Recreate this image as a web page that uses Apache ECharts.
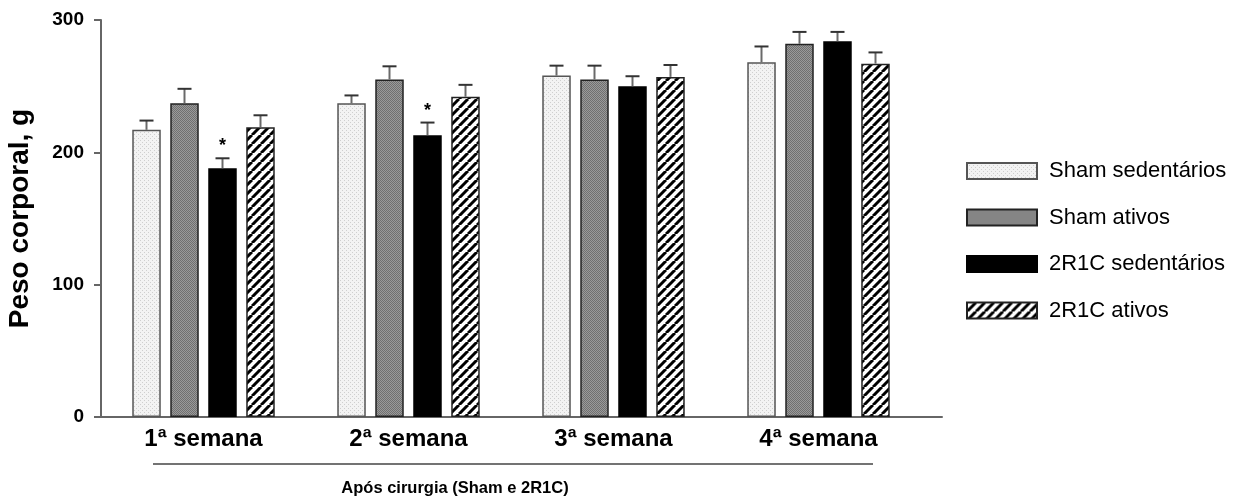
<!DOCTYPE html>
<html>
<head>
<meta charset="utf-8">
<script src="https://cdn.jsdelivr.net/npm/echarts@6/dist/echarts.min.js"></script>
<style>
  html, body { margin: 0; padding: 0; background: #fff; }
  #chart { width: 1246px; height: 502px; }
</style>
</head>
<body>
<div id="chart"></div>
<script>
// Body weight (g) per week after surgery, mean + SEM
const weeks = ['1ª semana', '2ª semana', '3ª semana', '4ª semana'];
const groupNames = ['Sham sedentários', 'Sham ativos', '2R1C sedentários', '2R1C ativos'];

const shamSedentarios = [217, 237, 258, 268];
const shamAtivos      = [237, 255, 255, 282];
const r1cSedentarios  = [188, 213, 250, 284];
const r1cAtivos       = [219, 242, 257, 267];

const shamSedentariosErr = [7, 6, 7.5, 12];
const shamAtivosErr      = [11, 10, 10.5, 9];
const r1cSedentariosErr  = [7.5, 9.5, 7.5, 7];
const r1cAtivosErr       = [9, 9, 9, 8.5];

// significance marks (*) per group and week
const r1cSedentariosSig = [true, true, false, false];

const yTicks = { min: 0, max: 300, interval: 100 };

const FONT = "'Liberation Sans', Arial, Helvetica, sans-serif";

// --- fill patterns -------------------------------------------------------
function makeCanvas(w, h, draw) {
  const c = document.createElement('canvas');
  c.width = w; c.height = h;
  draw(c.getContext('2d'), w, h);
  return c;
}
const dotted = makeCanvas(4, 4, (g) => {
  g.fillStyle = '#f3f3f3'; g.fillRect(0, 0, 4, 4);
  g.fillStyle = '#cfcfcf'; g.fillRect(0, 0, 1, 1); g.fillRect(2, 2, 1, 1);
});
const checker = makeCanvas(2, 2, (g) => {
  g.fillStyle = '#9a9a9a'; g.fillRect(0, 0, 2, 2);
  g.fillStyle = '#707070'; g.fillRect(0, 0, 1, 1); g.fillRect(1, 1, 1, 1);
});
const stripes = makeCanvas(9, 9, (g, w, h) => {
  g.fillStyle = '#fff'; g.fillRect(0, 0, w, h);
  g.strokeStyle = '#000'; g.lineWidth = 3;
  for (let k = -1; k <= 1; k++) {
    g.beginPath();
    g.moveTo(k * w, h);
    g.lineTo(k * w + w, 0);
    g.stroke();
  }
});
const fills = [
  { image: dotted, repeat: 'repeat' },
  { image: checker, repeat: 'repeat' },
  '#000',
  { image: stripes, repeat: 'repeat' }
];
const borders = ['#555', '#222', '#000', '#222'];

const values = [shamSedentarios, shamAtivos, r1cSedentarios, r1cAtivos];
const errors = [shamSedentariosErr, shamAtivosErr, r1cSedentariosErr, r1cAtivosErr];
const sigs = [null, null, r1cSedentariosSig, null];

// bar geometry
const BAR_W = 28.5;
const BAR_GAP = 9.5;
const STEP = BAR_W + BAR_GAP;

const barSeries = groupNames.map((name, k) => ({
  name,
  type: 'bar',
  data: values[k],
  barWidth: BAR_W,
  barGap: (BAR_GAP / BAR_W * 100).toFixed(1) + '%',
  itemStyle: { color: fills[k], borderColor: borders[k], borderWidth: 1.5 },
  emphasis: { disabled: true },
  z: 2
}));

// error bar data: [week, mean, sem, group, significant]
const errData = [];
values.forEach((vals, k) => {
  vals.forEach((v, i) => {
    errData.push([i, v, errors[k][i], k, sigs[k] && sigs[k][i] ? 1 : 0]);
  });
});

const errorSeries = {
  type: 'custom',
  data: errData,
  z: 5,
  silent: true,
  renderItem(params, api) {
    const cat = api.value(0), mean = api.value(1), sem = api.value(2), k = api.value(3);
    const top = api.coord([cat, mean + sem]);
    const base = api.coord([cat, mean]);
    const x = top[0] + (k - 1.5) * STEP;
    const children = [
      { type: 'line', shape: { x1: x, y1: base[1], x2: x, y2: top[1] },
        style: { stroke: '#6a6a6a', lineWidth: 2 } },
      { type: 'line', shape: { x1: x - 7, y1: top[1], x2: x + 7, y2: top[1] },
        style: { stroke: '#333', lineWidth: 2 } }
    ];
    if (api.value(4)) {
      children.push({ type: 'text', x: x, y: top[1] - 12,
        style: { text: '*', fill: '#000', font: 'bold 18px ' + FONT, align: 'center', verticalAlign: 'middle' } });
    }
    return { type: 'group', children };
  }
};

const chart = echarts.init(document.getElementById('chart'), null, { renderer: 'canvas' });
chart.setOption({
  animation: false,
  backgroundColor: '#fff',
  grid: [
    { left: 101, right: 325, top: 20, bottom: 85, outerBoundsMode: 'none', containLabel: false },
    { left: 101, right: 304, top: 20, bottom: 85, outerBoundsMode: 'none', containLabel: false }
  ],
  legend: {
    data: groupNames,
    orient: 'vertical',
    left: 961,
    top: 155,
    icon: 'rect',
    itemWidth: 70,
    itemHeight: 16,
    itemGap: 24.5,
    selectedMode: false,
    textStyle: { fontFamily: FONT, fontSize: 22, color: '#000', padding: [0, 0, 0, 7] }
  },
  xAxis: [
    {
      type: 'category',
      gridIndex: 0,
      data: weeks,
      axisLine: { show: false },
      axisTick: { show: false },
      axisLabel: { fontFamily: FONT, fontSize: 24, fontWeight: 'bold', color: '#000', margin: 10 }
    },
    {
      type: 'value',
      gridIndex: 1,
      min: 0, max: 1,
      axisLine: { show: true, lineStyle: { color: '#666', width: 2 } },
      axisTick: { show: false },
      axisLabel: { show: false },
      splitLine: { show: false }
    }
  ],
  yAxis: [
    {
      type: 'value',
      gridIndex: 0,
      min: yTicks.min, max: yTicks.max, interval: yTicks.interval,
      name: 'Peso corporal, g',
      nameLocation: 'middle',
      nameGap: 67,
      nameTextStyle: { fontFamily: FONT, fontSize: 28, fontWeight: 'bold', color: '#000' },
      axisLine: { show: true, lineStyle: { color: '#666', width: 2 } },
      axisTick: { show: true, length: 7, lineStyle: { color: '#666', width: 2 } },
      axisLabel: { fontFamily: FONT, fontSize: 19, fontWeight: 'bold', color: '#000', margin: 17 },
      splitLine: { show: false }
    },
    {
      type: 'value',
      gridIndex: 1,
      show: false
    }
  ],
  graphic: [
    { type: 'line', shape: { x1: 153, y1: 464, x2: 873, y2: 464 },
      style: { stroke: '#444', lineWidth: 1.5 } },
    { type: 'text', x: 455, y: 488,
      style: { text: 'Após cirurgia (Sham e 2R1C)', font: 'bold 16.5px ' + FONT, fill: '#000',
               align: 'center', verticalAlign: 'middle' } }
  ],
  series: [...barSeries, errorSeries]
});
</script>
</body>
</html>
